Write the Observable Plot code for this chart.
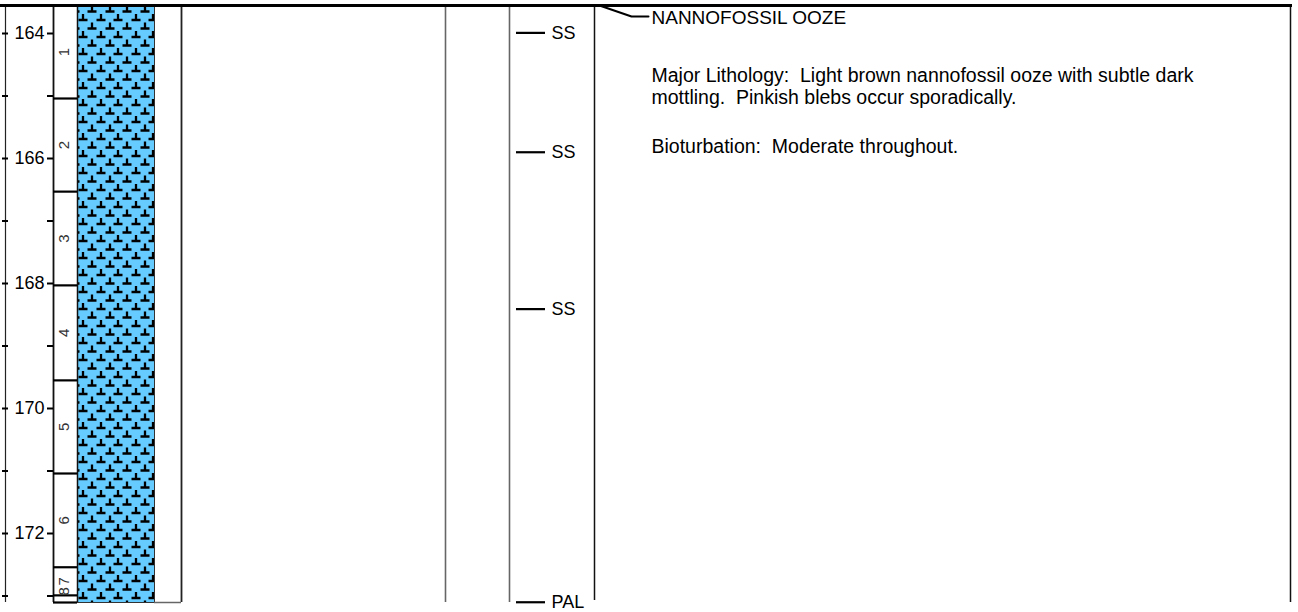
<!DOCTYPE html>
<html><head><meta charset="utf-8">
<script src="https://cdn.jsdelivr.net/npm/d3@7"></script>
<script src="https://cdn.jsdelivr.net/npm/@observablehq/plot@0.6"></script>
<style>
html,body{margin:0;padding:0;background:#fff;}
svg text{white-space:pre;}
</style></head><body><div id="chart"></div>
<script>
// ---- data ----
const depthTop = 163.552, depthBottom = 173.104;
const majorTicks = [164, 166, 168, 170, 172];
const minorTicks = [165, 167, 169, 171, 173];
const sectionNames = ["1", "2", "3", "4", "5", "6", "7", "8"];
const sectionTops = [163.552, 165.04, 166.53, 168.03, 169.55, 171.04, 172.54, 172.99];
const sectionBottoms = [165.04, 166.53, 168.03, 169.55, 171.04, 172.54, 172.99, 173.104];
const lithNames = ["NANNOFOSSIL OOZE"];
const lithTops = [163.552];
const lithBottoms = [173.104];
const sampleDepths = [163.99, 165.90, 168.41, 173.10];
const sampleCodes = ["SS", "SS", "SS", "PAL"];
const descMajor = "Major Lithology:  Light brown nannofossil ooze with subtle dark\nmottling.  Pinkish blebs occur sporadically.";
const descBio = "Bioturbation:  Moderate throughout.";

// ---- layout (pixels) ----
const W = 1298, H = 612, Y0 = 5, Y1 = 602;
const C = {axL: 5, axR: 53, secR: 77, lithR: 154, c2R: 181, c3R: 445, c4R: 509, c5R: 594, right: 1290};
const px2d = p => depthTop + (p - Y0) / (Y1 - Y0) * (depthBottom - depthTop);
const pxPerM = (Y1 - Y0) / (depthBottom - depthTop);

const secs = sectionNames.map((n, i) => ({name: n, top: sectionTops[i], bottom: sectionBottoms[i]}));
const secLabels = secs.map(s => {
  const h = (s.bottom - s.top) * pxPerM;
  return h < 15 ? {name: s.name, y: s.top, anchor: "start"} : {name: s.name, y: (s.top + s.bottom) / 2, anchor: "middle"};
});
const samples = sampleDepths.map((d, i) => ({depth: d, code: sampleCodes[i]}));
const liths = lithNames.map((n, i) => ({name: n, top: lithTops[i], bottom: lithBottoms[i]}));
const leader = liths.flatMap((l, i) => [
  {i, x: 599, y: l.top}, {i, x: 631, y: px2d(16)}, {i, x: 648, y: px2d(16)}
]);

const font = "'Liberation Sans', Arial, Helvetica, sans-serif";
const plot = Plot.plot({
  width: W, height: H, margin: 0,
  x: {domain: [0, W], range: [0, W], axis: null},
  y: {domain: [depthTop, depthBottom], range: [Y0, Y1], axis: null},
  style: {fontFamily: font, fontSize: "18px", background: "#fff", color: "#000", overflow: "visible"},
  marks: [
    // lithology fill
    Plot.rect(liths, {x1: C.secR, x2: C.lithR, y1: "top", y2: "bottom", fill: "url(#nannoPattern)"}),
    // vertical column lines
    Plot.ruleX([C.axL], {y1: depthTop, y2: depthBottom, stroke: "#222", strokeWidth: 1.2}),
    Plot.ruleX([C.axR], {y1: depthTop, y2: depthBottom, stroke: "#111", strokeWidth: 1.8}),
    Plot.ruleX([C.secR], {y1: depthTop, y2: depthBottom, stroke: "#111", strokeWidth: 1.5}),
    Plot.ruleX([C.lithR], {y1: depthTop, y2: depthBottom, stroke: "#333", strokeWidth: 1}),
    Plot.ruleX([C.c2R], {y1: depthTop, y2: depthBottom, stroke: "#222", strokeWidth: 1.8}),
    Plot.ruleX([C.c3R, C.c4R], {y1: depthTop, y2: depthBottom, stroke: "#666", strokeWidth: 1.6}),
    Plot.ruleX([C.c5R], {y1: depthTop, y2: px2d(600), stroke: "#111", strokeWidth: 1.5}),
    Plot.ruleX([C.right], {y1: depthTop, y2: depthBottom, stroke: "#111", strokeWidth: 1.5}),
    // bottom lines
    Plot.ruleY([depthBottom], {x1: C.lithR, x2: C.c2R, stroke: "#666", strokeWidth: 1.5}),
    Plot.ruleY([depthBottom], {x1: C.secR, x2: C.lithR, stroke: "#333", strokeWidth: 1}),
    // section boxes
    Plot.ruleY(secs.slice(1), {y: "top", x1: C.axR, x2: C.secR, stroke: "#000", strokeWidth: 2.2}),
    Plot.ruleY([depthBottom], {x1: C.axR, x2: C.secR, stroke: "#000", strokeWidth: 2.2}),
    Plot.text(secLabels.filter(d => d.anchor === "middle"), {x: 64, y: "y", text: "name", rotate: -90, fontSize: 15, fill: "#333", textAnchor: "middle"}),
    Plot.text(secLabels.filter(d => d.anchor === "start"), {x: 64, y: "y", text: "name", rotate: -90, fontSize: 15, fill: "#333", textAnchor: "start"}),
    // depth ticks
    Plot.ruleY([...majorTicks, ...minorTicks], {x1: 2, x2: 8, stroke: "#000", strokeWidth: 2}),
    Plot.ruleY([...majorTicks, ...minorTicks], {x1: 47, x2: C.axR, stroke: "#000", strokeWidth: 2}),
    Plot.text(majorTicks, {y: d => d, x: 29, text: d => String(d), fontSize: 18, textAnchor: "middle"}),
    // top border
    Plot.ruleY([depthTop], {x1: 0, x2: 1292, stroke: "#000", strokeWidth: 3}),
    // samples
    Plot.ruleY(samples, {y: "depth", x1: 516, x2: 545, stroke: "#000", strokeWidth: 2.2}),
    Plot.text(samples, {y: "depth", x: 551, text: "code", textAnchor: "start", fontSize: 18}),
    // description
    Plot.line(leader, {x: "x", y: "y", z: "i", stroke: "#000", strokeWidth: 2}),
    Plot.text(liths, {y: () => px2d(17), x: 651, text: "name", textAnchor: "start", fontSize: 19}),
    Plot.text([descMajor], {y: () => px2d(67), x: 651, text: d => d, textAnchor: "start", lineAnchor: "top", lineHeight: 1.08, fontSize: 19.5}),
    Plot.text([descBio], {y: () => px2d(139), x: 651, text: d => d, textAnchor: "start", lineAnchor: "top", fontSize: 19.5})
  ]
});

// pattern definition for nannofossil ooze (crisp, integer-aligned tile)
const ns = "http://www.w3.org/2000/svg";
const defs = document.createElementNS(ns, "defs");
const pat = document.createElementNS(ns, "pattern");
const PW = 35, PH = 17;
pat.setAttribute("id", "nannoPattern");
pat.setAttribute("patternUnits", "userSpaceOnUse");
pat.setAttribute("x", C.secR);
pat.setAttribute("y", Y0);
pat.setAttribute("width", PW);
pat.setAttribute("height", PH);
const bg = document.createElementNS(ns, "rect");
bg.setAttribute("width", PW); bg.setAttribute("height", PH); bg.setAttribute("fill", "#66CCFF");
pat.appendChild(bg);
const sym = (cx, by) => `M${cx - 4.5},${by}H${cx + 4.5}M${cx},${by}V${by - 6}`;
const centers = [[15, 6.5], [33, 6.5], [6, 15], [24, 15]];
const d = [];
centers.forEach(([cx, by]) => { [-PW, 0, PW].forEach(o => [-PH, 0, PH].forEach(q => d.push(sym(cx + o, by + q)))); });
const p = document.createElementNS(ns, "path");
p.setAttribute("d", d.join(""));
p.setAttribute("stroke", "#000"); p.setAttribute("stroke-width", 2.3); p.setAttribute("fill", "none");
pat.appendChild(p);
defs.appendChild(pat);
plot.insertBefore(defs, plot.firstChild);

document.getElementById("chart").appendChild(plot);
</script></body></html>
